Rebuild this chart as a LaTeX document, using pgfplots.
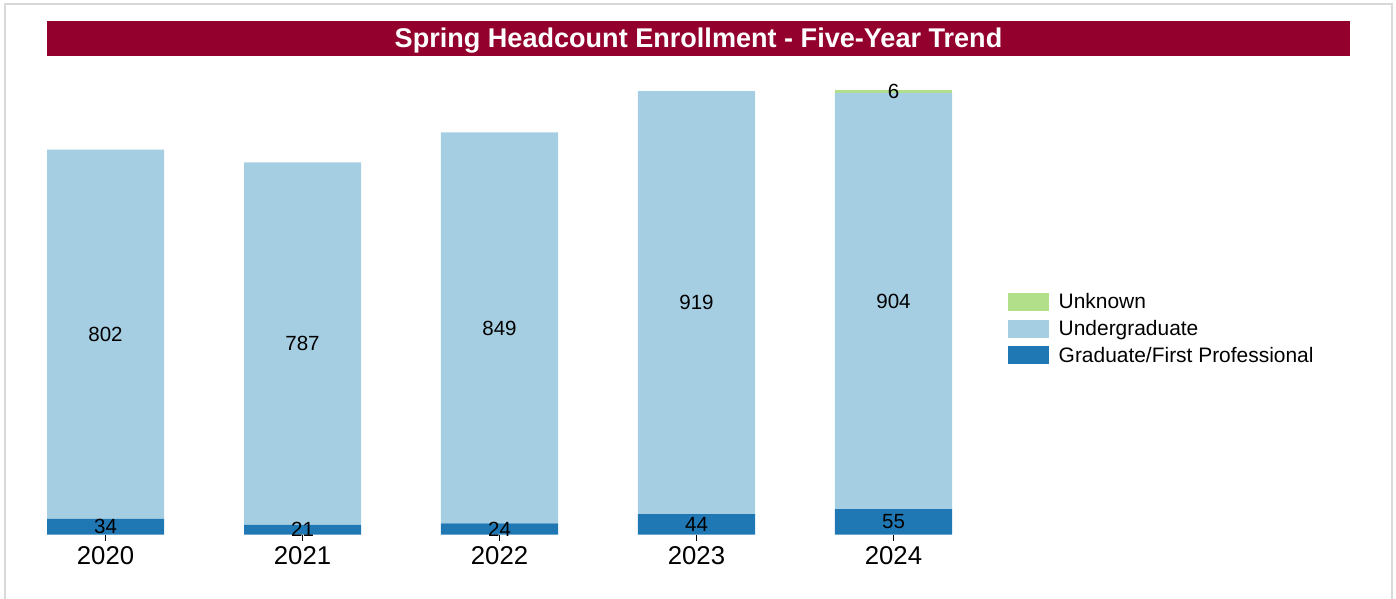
\documentclass[border=0pt]{standalone}
\usepackage{pgfplots}
\pgfplotsset{compat=1.18}
\usepackage{fontspec}
\setmainfont{Liberation Sans}
\definecolor{banner}{RGB}{147,0,45}
\definecolor{cUnk}{RGB}{178,223,138}
\definecolor{cUg}{RGB}{166,206,227}
\definecolor{cGr}{RGB}{31,120,180}
\definecolor{frame}{RGB}{217,217,217}
\def\u{0.75pt}
\begin{document}
\begin{tikzpicture}
\useasboundingbox (0,0) rectangle (1396*\u,-599*\u);
\draw[frame, line width=2.5*\u] (5*\u,-600*\u) -- (5*\u,-4*\u) -- (1392*\u,-4*\u) -- (1392*\u,-600*\u);
\fill[banner] (47*\u,-21*\u) rectangle (1350*\u,-56*\u);
\node[text=white, font=\fontsize{20.3pt}{23pt}\selectfont\bfseries, inner sep=0pt, anchor=center] at (698.5*\u,-40.5*\u) {Spring Headcount Enrollment - Five-Year Trend};
\begin{axis}[
  at={(47*\u,-534.5*\u)}, anchor=south west,
  scale only axis, width=905*\u, height=454.5*\u,
  xmin=-0.297, xmax=4.297, ymin=0, ymax=987,
  ybar stacked, bar width=0.594,
  axis y line=none, axis x line=bottom,
  x axis line style={draw=none},
  xtick={0,1,2,3,4}, xticklabels={2020,2021,2022,2023,2024},
  tick align=outside, major tick length=6*\u,
  x tick style={black, line width=1.2*\u},
  xticklabel style={font=\fontsize{19.3pt}{22pt}\selectfont, yshift=-1*\u},
  /pgf/number format/assume math mode=true,
  clip=false,
  nodes near coords={\pgfmathfloatifflags{\pgfplotspointmeta}{0}{}{\pgfmathprintnumber{\pgfplotspointmeta}}},
  every node near coord/.append style={font=\fontsize{15.4pt}{18pt}\selectfont, black, anchor=center, inner sep=0pt},
  legend style={draw=none, fill=none, at={(1.062,0.453)}, anchor=west, font=\fontsize{15.7pt}{18pt}\selectfont, row sep=7*\u, inner sep=0pt, cells={anchor=west}, nodes={inner sep=1pt}},
  legend image code/.code={\fill[#1] (0,-9*\u) rectangle (41*\u,9*\u);},
  /tikz/every odd column/.append style={column sep=8*\u},
  reverse legend,
]
\addplot[fill=cGr, draw=none] coordinates {(0,34) (1,21) (2,24) (3,44) (4,55)};
\addlegendentry{Graduate/First Professional}
\addplot[fill=cUg, draw=none] coordinates {(0,802) (1,787) (2,849) (3,919) (4,904)};
\addlegendentry{Undergraduate}
\addplot[fill=cUnk, draw=none] coordinates {(0,0) (1,0) (2,0) (3,0) (4,6)};
\addlegendentry{Unknown}
\end{axis}
\end{tikzpicture}
\end{document}
